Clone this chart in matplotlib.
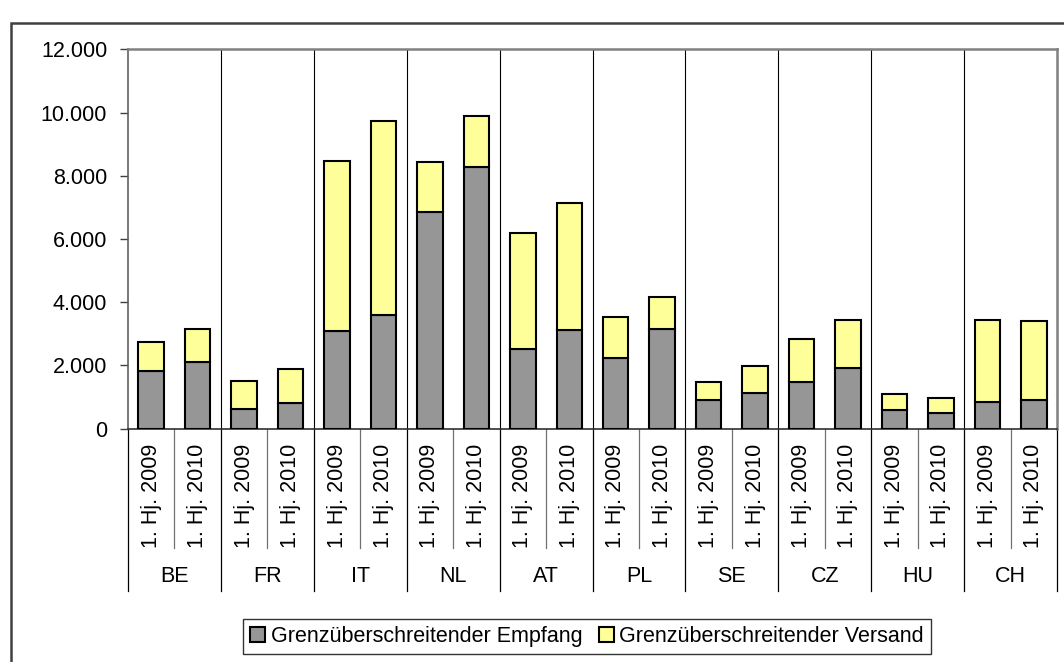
import matplotlib
matplotlib.use("Agg")
import matplotlib.pyplot as plt
import matplotlib.transforms as mtransforms
from matplotlib.patches import Rectangle
from matplotlib.ticker import FuncFormatter
import numpy as np

# Data
countries = ["BE", "FR", "IT", "NL", "AT", "PL", "SE", "CZ", "HU", "CH"]
periods = ["1. Hj. 2009", "1. Hj. 2010"]
empfang = [1825, 2120, 620, 800, 3100, 3600, 6850, 8270, 2530, 3120,
           2230, 3150, 910, 1140, 1490, 1910, 590, 490, 830, 910]
versand = [925, 1040, 880, 1080, 5360, 6130, 1570, 1630, 3660, 4010,
           1310, 1020, 580, 850, 1350, 1520, 500, 490, 2610, 2500]
series_names = ["Grenzüberschreitender Empfang", "Grenzüberschreitender Versand"]
colors = ["#969696", "#FFFF99"]

plt.rcParams["font.family"] = ["Liberation Sans", "DejaVu Sans"]
FS = 15.5

W, H = 1064, 662
fig = plt.figure(figsize=(W / 100, H / 100), dpi=100)

# Pixel geometry of the plot area
x0, x1 = 128, 1057
y_top, y_zero = 49.3, 428.7
ax = fig.add_axes([x0 / W, (H - y_zero) / H, (x1 - x0) / W, (y_zero - y_top) / H])

n = len(countries) * len(periods)
xpos = np.arange(n) + 0.5
width = 0.55
ax.bar(xpos, empfang, width, color=colors[0], edgecolor="black", linewidth=1.5, zorder=3)
ax.bar(xpos, versand, width, bottom=empfang, color=colors[1], edgecolor="black",
       linewidth=1.5, zorder=3)

ax.set_xlim(0, n)
ax.set_ylim(0, 12000)
ax.set_yticks(np.arange(0, 12001, 2000))
ax.yaxis.set_major_formatter(FuncFormatter(lambda v, p: f"{int(v):,}".replace(",", ".")))
ax.tick_params(axis="y", direction="out", length=6, width=1, color="#404040",
               labelsize=FS, pad=9)
ax.set_xticks([])

for side in ["top", "right"]:
    ax.spines[side].set_color("#808080")
    ax.spines[side].set_linewidth(1.8)
ax.spines["left"].set_color("#606060")
ax.spines["left"].set_linewidth(1.2)
ax.spines["bottom"].set_color("#303030")
ax.spines["bottom"].set_linewidth(1.2)

# Vertical separators between countries inside the plot
for k in range(1, len(countries)):
    ax.axvline(2 * k, color="black", linewidth=0.8, zorder=1)

# Category axis: two label levels with boundary lines
px_h = y_zero - y_top
def frac(py):
    return (y_zero - py) / px_h

trans = mtransforms.blended_transform_factory(ax.transData, ax.transAxes)
inner_bottom = frac(548)
outer_bottom = frac(591)
for b in range(n + 1):
    yb = outer_bottom if b % 2 == 0 else inner_bottom
    col = "black" if b % 2 == 0 else "#707070"
    ax.plot([b, b], [0, yb], transform=trans, color=col, linewidth=0.9,
            clip_on=False, zorder=1)

for i, x in enumerate(xpos):
    ax.text(x, frac(496), periods[i % 2], transform=trans, rotation=90,
            ha="center", va="center", fontsize=FS)

for k, c in enumerate(countries):
    ax.text(2 * k + 1, frac(577), c, transform=trans, ha="center", va="center",
            fontsize=FS)

# Legend
handles = [Rectangle((0, 0), 1, 1, facecolor=colors[0], edgecolor="black", linewidth=1.5),
           Rectangle((0, 0), 1, 1, facecolor=colors[1], edgecolor="black", linewidth=1.5)]
leg = fig.legend(handles, series_names, loc="center", bbox_to_anchor=(587 / W, 1 - 636.5 / H),
                 ncol=2, fontsize=FS, frameon=True, fancybox=False, borderpad=0.32,
                 handlelength=0.7, handleheight=0.7, handletextpad=0.25,
                 columnspacing=0.75, borderaxespad=0)
leg.get_frame().set_edgecolor("black")
leg.get_frame().set_linewidth(1.0)

# Outer chart frame
fig.patches.append(Rectangle((11 / W, -0.1), 2.0, 1 - 23 / H + 0.1, transform=fig.transFigure,
                             fill=False, edgecolor="#404040", linewidth=1.8))

fig.savefig("out.png", dpi=100)
